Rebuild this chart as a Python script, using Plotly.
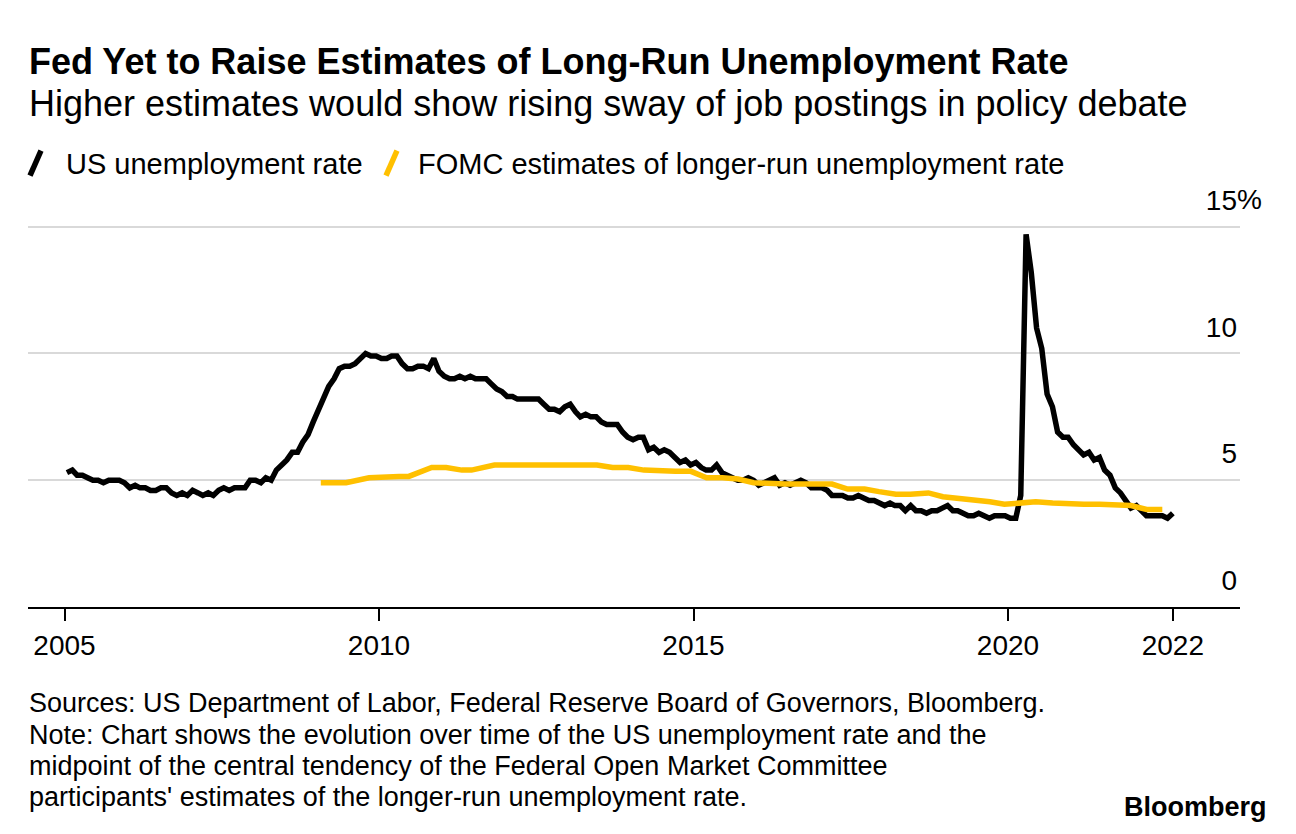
import plotly.graph_objects as go

# ---------------- data ----------------
years = list(range(2005, 2023))
unemp_by_year = {
    2005: [5.3, 5.4, 5.2, 5.2, 5.1, 5.0, 5.0, 4.9, 5.0, 5.0, 5.0, 4.9],
    2006: [4.7, 4.8, 4.7, 4.7, 4.6, 4.6, 4.7, 4.7, 4.5, 4.4, 4.5, 4.4],
    2007: [4.6, 4.5, 4.4, 4.5, 4.4, 4.6, 4.7, 4.6, 4.7, 4.7, 4.7, 5.0],
    2008: [5.0, 4.9, 5.1, 5.0, 5.4, 5.6, 5.8, 6.1, 6.1, 6.5, 6.8, 7.3],
    2009: [7.8, 8.3, 8.7, 9.0, 9.4, 9.5, 9.5, 9.6, 9.8, 10.0, 9.9, 9.9],
    2010: [9.8, 9.8, 9.9, 9.9, 9.6, 9.4, 9.4, 9.5, 9.5, 9.4, 9.8, 9.3],
    2011: [9.1, 9.0, 9.0, 9.1, 9.0, 9.1, 9.0, 9.0, 9.0, 8.8, 8.6, 8.5],
    2012: [8.3, 8.3, 8.2, 8.2, 8.2, 8.2, 8.2, 8.0, 7.8, 7.8, 7.7, 7.9],
    2013: [8.0, 7.7, 7.5, 7.6, 7.5, 7.5, 7.3, 7.2, 7.2, 7.2, 6.9, 6.7],
    2014: [6.6, 6.7, 6.7, 6.2, 6.3, 6.1, 6.2, 6.1, 5.9, 5.7, 5.8, 5.6],
    2015: [5.7, 5.5, 5.4, 5.4, 5.6, 5.3, 5.2, 5.1, 5.0, 5.0, 5.1, 5.0],
    2016: [4.8, 4.9, 5.0, 5.1, 4.8, 4.9, 4.8, 4.9, 5.0, 4.9, 4.7, 4.7],
    2017: [4.7, 4.6, 4.4, 4.4, 4.4, 4.3, 4.3, 4.4, 4.3, 4.2, 4.2, 4.1],
    2018: [4.0, 4.1, 4.0, 4.0, 3.8, 4.0, 3.8, 3.8, 3.7, 3.8, 3.8, 3.9],
    2019: [4.0, 3.8, 3.8, 3.7, 3.6, 3.6, 3.7, 3.6, 3.5, 3.6, 3.6, 3.6],
    2020: [3.5, 3.5, 4.4, 14.7, 13.2, 11.0, 10.2, 8.4, 7.9, 6.9, 6.7, 6.7],
    2021: [6.4, 6.2, 6.0, 6.1, 5.8, 5.9, 5.4, 5.2, 4.7, 4.5, 4.2, 3.9],
    2022: [4.0, 3.8, 3.6, 3.6, 3.6, 3.6, 3.5, 3.7],
}
unemp_dates = []
unemp_values = []
for y in years:
    for m, v in enumerate(unemp_by_year[y], start=1):
        unemp_dates.append(f"{y}-{m:02d}-15")
        unemp_values.append(v)

fomc_dates = [
    "2009-01-28", "2009-04-29", "2009-06-24", "2009-11-04",
    "2010-01-27", "2010-04-28", "2010-06-23", "2010-11-03",
    "2011-01-26", "2011-04-27", "2011-06-22", "2011-11-02",
    "2012-01-25", "2012-04-25", "2012-06-20", "2012-09-13", "2012-12-12",
    "2013-03-20", "2013-06-19", "2013-09-18", "2013-12-18",
    "2014-03-19", "2014-06-18", "2014-09-17", "2014-12-17",
    "2015-03-18", "2015-06-17", "2015-09-17", "2015-12-16",
    "2016-03-16", "2016-06-15", "2016-09-21", "2016-12-14",
    "2017-03-15", "2017-06-14", "2017-09-20", "2017-12-13",
    "2018-03-21", "2018-06-13", "2018-09-26", "2018-12-19",
    "2019-03-20", "2019-06-19", "2019-09-18", "2019-12-11",
    "2020-06-10", "2020-09-16", "2020-12-16",
    "2021-03-17", "2021-06-16", "2021-09-22", "2021-12-15",
    "2022-03-16", "2022-06-15",
]
fomc_values = [
    4.9, 4.9, 4.9, 5.1,
    5.15, 5.15, 5.15, 5.5,
    5.5, 5.4, 5.4, 5.6,
    5.6, 5.6, 5.6, 5.6, 5.6,
    5.6, 5.6, 5.5, 5.5,
    5.4, 5.35, 5.35, 5.35,
    5.1, 5.1, 5.05, 4.9,
    4.85, 4.85, 4.85, 4.85,
    4.85, 4.65, 4.65, 4.55,
    4.45, 4.45, 4.5, 4.35,
    4.3, 4.2, 4.15, 4.05,
    4.15, 4.1, 4.05,
    4.05, 4.05, 4.05, 4.0,
    3.85, 3.85,
]

x_tickvals = ["2005-01-01", "2010-01-01", "2015-01-01", "2020-01-01", "2022-08-15"]
x_ticktext = ["2005", "2010", "2015", "2020", "2022"]
y_tickvals = [0, 5, 10, 15]
y_ticktext = ["0", "5", "10", "15"]

title_text = "Fed Yet to Raise Estimates of Long-Run Unemployment Rate"
subtitle_text = "Higher estimates would show rising sway of job postings in policy debate"
legend_names = ["US unemployment rate", "FOMC estimates of longer-run unemployment rate"]
footer_lines = [
    "Sources: US Department of Labor, Federal Reserve Board of Governors, Bloomberg.",
    "Note: Chart shows the evolution over time of the US unemployment rate and the",
    "midpoint of the central tendency of the Federal Open Market Committee",
    "participants' estimates of the longer-run unemployment rate.",
]

# ---------------- layout geometry (page px, page has 8px body margin) ----------------
OFF = 8
W, H = 1296 - 2 * OFF, 834 - 2 * OFF
YMAX = 17.0
PPU = 25.31  # px per percentage point
L, R, B = 28 - OFF, 1240 - OFF, 606.7 - OFF
T = B - YMAX * PPU
FONT = "Liberation Sans"
BLACK = "#000000"
YELLOW = "#FFC000"


def px(X):
    return (X - OFF - L) / (R - L)


def py(Y):
    return (B - (Y - OFF)) / (B - T)


fig = go.Figure()
fig.add_trace(go.Scatter(x=unemp_dates, y=unemp_values, mode="lines",
                         line=dict(color=BLACK, width=5.5), name=legend_names[0],
                         showlegend=False, hoverinfo="skip"))
fig.add_trace(go.Scatter(x=fomc_dates, y=fomc_values, mode="lines",
                         line=dict(color=YELLOW, width=5.5), name=legend_names[1],
                         showlegend=False, hoverinfo="skip"))

annotations = []
annotations.append(dict(text=f"<b>{title_text}</b>", x=px(27), y=py(62), xref="paper", yref="paper",
                        xanchor="left", yanchor="middle", showarrow=False,
                        font=dict(family=FONT, size=36, color=BLACK)))
annotations.append(dict(text=subtitle_text, x=px(27), y=py(104), xref="paper", yref="paper",
                        xanchor="left", yanchor="middle", showarrow=False,
                        font=dict(family=FONT, size=36, color=BLACK)))
# legend
annotations.append(dict(text=legend_names[0], x=px(64), y=py(164), xref="paper", yref="paper",
                        xanchor="left", yanchor="middle", showarrow=False,
                        font=dict(family=FONT, size=29, color=BLACK)))
annotations.append(dict(text=legend_names[1], x=px(416), y=py(164), xref="paper", yref="paper",
                        xanchor="left", yanchor="middle", showarrow=False,
                        font=dict(family=FONT, size=29, color=BLACK)))
# percent sign on top tick
annotations.append(dict(text="%", x=1.0, y=15, xref="paper", yref="y",
                        xanchor="left", yanchor="middle", yshift=27, xshift=-5, showarrow=False,
                        font=dict(family=FONT, size=28, color=BLACK)))
# footer
for i, line in enumerate(footer_lines):
    annotations.append(dict(text=line, x=px(27), y=py(703 + i * 31), xref="paper", yref="paper",
                            xanchor="left", yanchor="middle", showarrow=False,
                            font=dict(family=FONT, size=27, color=BLACK)))
annotations.append(dict(text="<b>Bloomberg</b>", x=px(1269), y=py(806), xref="paper", yref="paper",
                        xanchor="right", yanchor="middle", showarrow=False,
                        font=dict(family=FONT, size=27, color=BLACK)))

shapes = [
    dict(type="line", xref="paper", yref="paper", x0=px(30), y0=py(176), x1=px(41), y1=py(151),
         line=dict(color=BLACK, width=5.5)),
    dict(type="line", xref="paper", yref="paper", x0=px(386), y0=py(176), x1=px(397), y1=py(151),
         line=dict(color=YELLOW, width=5.5)),
]

fig.update_layout(
    width=W, height=H,
    margin=dict(l=L, r=W - R, t=T, b=H - B, pad=0),
    paper_bgcolor="white", plot_bgcolor="white",
    font=dict(family=FONT, color=BLACK),
    showlegend=False,
    annotations=annotations,
    shapes=shapes,
    xaxis=dict(type="date", range=["2004-06-03", "2023-09-09"],
               tickvals=x_tickvals, ticktext=x_ticktext,
               ticks="outside", ticklen=12, tickwidth=1.5, tickcolor=BLACK,
               showline=True, linecolor=BLACK, linewidth=2,
               showgrid=False, zeroline=False,
               tickfont=dict(family=FONT, size=28, color=BLACK)),
    yaxis=dict(range=[0, YMAX], side="right", tickvals=y_tickvals, ticktext=y_ticktext,
               ticklabelposition="inside top", ticks="", ticklabelshift=-7,
               showgrid=True, gridcolor="#d9d9d9", gridwidth=2,
               zeroline=False, showline=False,
               tickfont=dict(family=FONT, size=28, color=BLACK)),
)

fig.write_html("out.html")
